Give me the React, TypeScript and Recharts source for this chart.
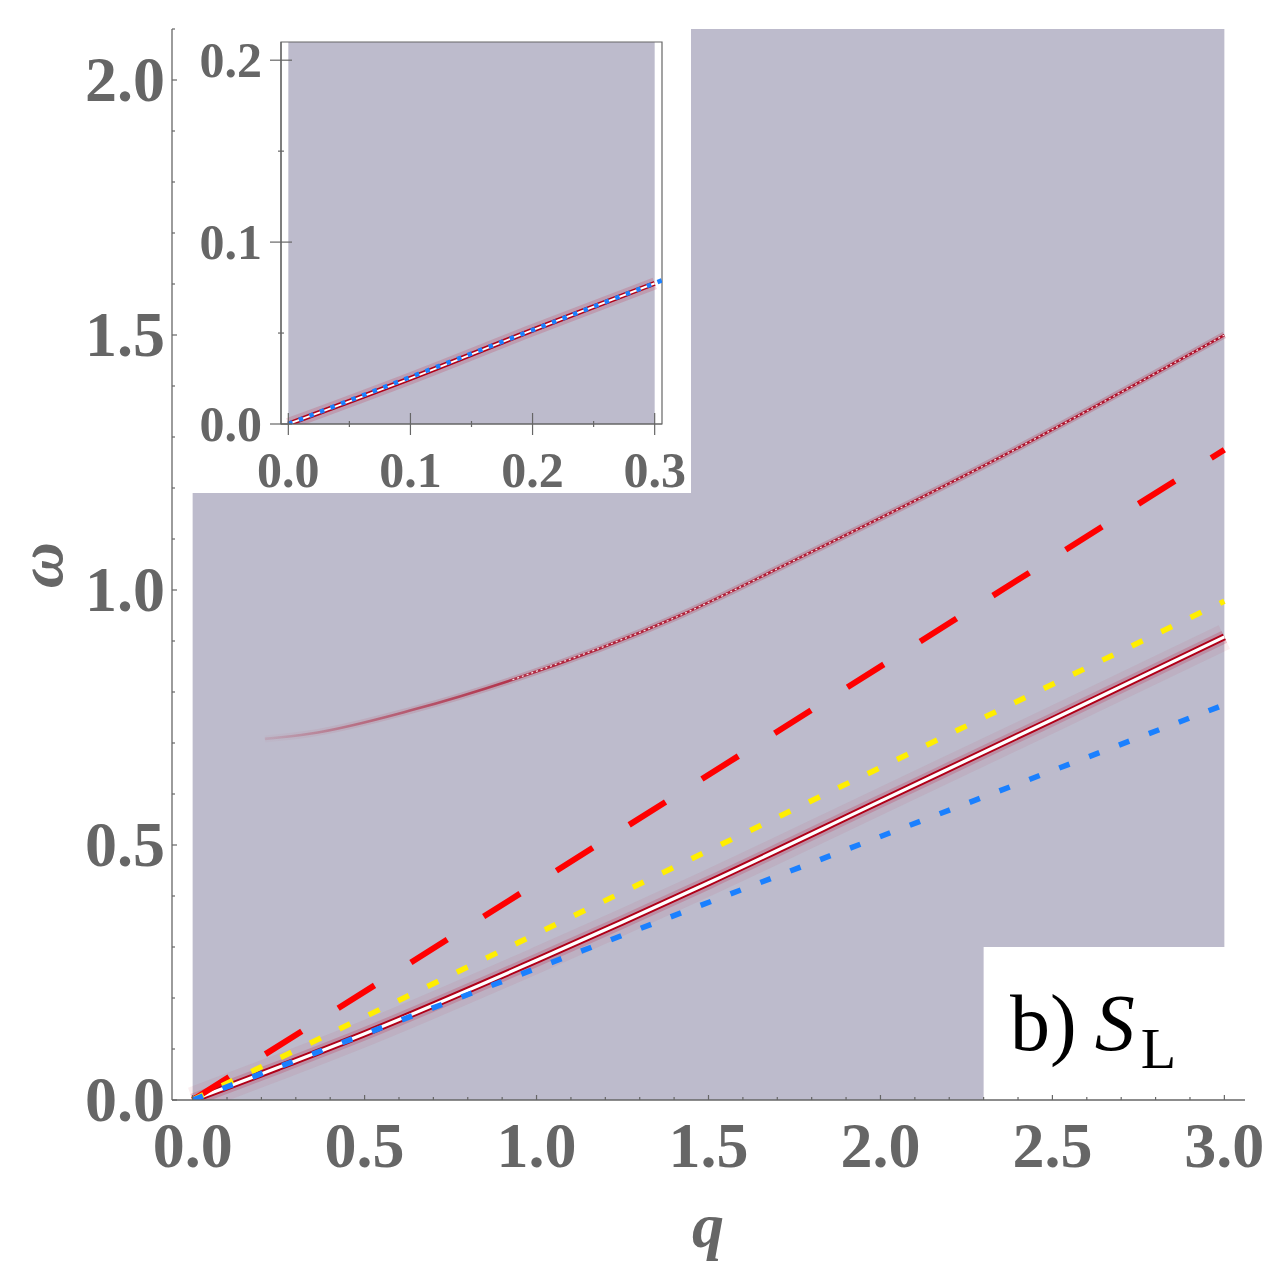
import { ComposedChart, Line, XAxis, YAxis, ReferenceArea } from "recharts"

// ---- data ----
const qMain = [0, 0.25, 0.5, 1.0, 1.5, 2.0, 2.5, 3.0]
const peakMain = [0, 0.064, 0.13, 0.274, 0.426, 0.586, 0.746, 0.908]

const qUpper = [0.21, 0.34, 0.64, 0.93, 1.42, 1.77, 2.35, 3.0]
const peakUpper = [0.708, 0.718, 0.765, 0.824, 0.951, 1.065, 1.261, 1.5]

const qLines = [0, 3.0]
const redDashed = [0, 1.275]
const yellowDotted = [0, 0.978]
const blueDotted = [0, 0.775]

const qInset = [0, 0.1, 0.2, 0.3]
const peakInset = [0, 0.0251, 0.0516, 0.0773]
const qInsetBlue = [0, 0.306]
const blueInset = [0, 0.079]

const xTicks = [0, 0.1, 0.2, 0.3, 0.4, 0.5, 0.6, 0.7, 0.8, 0.9, 1.0, 1.1, 1.2, 1.3, 1.4, 1.5, 1.6, 1.7, 1.8, 1.9, 2.0, 2.1, 2.2, 2.3, 2.4, 2.5, 2.6, 2.7, 2.8, 2.9, 3.0]
const xMajors = [0, 0.5, 1.0, 1.5, 2.0, 2.5, 3.0]
const yTicks = [0, 0.1, 0.2, 0.3, 0.4, 0.5, 0.6, 0.7, 0.8, 0.9, 1.0, 1.1, 1.2, 1.3, 1.4, 1.5, 1.6, 1.7, 1.8, 1.9, 2.0, 2.1]
const yMajors = [0, 0.5, 1.0, 1.5, 2.0]
const insetXTicks = [0, 0.05, 0.1, 0.15, 0.2, 0.25, 0.3]
const insetXMajors = [0, 0.1, 0.2, 0.3]
const insetYTicks = [0, 0.05, 0.1, 0.15, 0.2]
const insetYMajors = [0, 0.1, 0.2]

const GRAY = "#666666"
const BG = "#bdbbcc"
const FONT = "Liberation Serif, DejaVu Serif, serif"

const pts = (qs: number[], ws: number[]) => qs.map((q, i) => ({ q, w: ws[i] }))
const isMajor = (v: number, majors: number[]) => majors.some((m) => Math.abs(m - v) < 1e-6)

function TickX(props: any) {
  const { x, y, payload, cfg } = props
  const v = payload.value
  const major = isMajor(v, cfg.majors)
  return (
    <g>
      <line
        x1={x} x2={x}
        y1={y + (major ? cfg.majorOut : cfg.minorOut)}
        y2={y - (major ? cfg.majorIn : cfg.minorIn)}
        stroke={GRAY} strokeWidth={1.2}
      />
      {major && (
        <text x={x} y={y + cfg.labelDy} textAnchor="middle" fill={GRAY}
          style={{ fontFamily: FONT, fontSize: cfg.fontSize, fontWeight: 700 }}>
          {v.toFixed(1)}
        </text>
      )}
    </g>
  )
}

function TickY(props: any) {
  const { x, y, payload, cfg } = props
  const v = payload.value
  const major = isMajor(v, cfg.majors)
  return (
    <g>
      <line
        y1={y} y2={y}
        x1={x - (major ? cfg.majorOut : cfg.minorOut)}
        x2={x + (major ? cfg.majorIn : cfg.minorIn)}
        stroke={GRAY} strokeWidth={1.2}
      />
      {major && (
        <text x={x - cfg.labelDx} y={y + cfg.labelDy} textAnchor="end" fill={GRAY}
          style={{ fontFamily: FONT, fontSize: cfg.fontSize, fontWeight: 700 }}>
          {v.toFixed(1)}
        </text>
      )}
    </g>
  )
}

const mainX = { majors: xMajors, majorIn: 5, minorIn: 3, majorOut: 0, minorOut: 0, labelDy: 67, fontSize: 64 }
const mainY = { majors: yMajors, majorIn: 5, minorIn: 3, majorOut: 0, minorOut: 0, labelDx: 7, labelDy: 21, fontSize: 64 }
const insX = { majors: insetXMajors, majorIn: 11, minorIn: 3, majorOut: 11, minorOut: 3, labelDy: 63, fontSize: 50 }
const insY = { majors: insetYMajors, majorIn: 11, minorIn: 3, majorOut: 11, minorOut: 3, labelDx: 19, labelDy: 17, fontSize: 50 }

function Inset() {
  const peak = pts(qInset, peakInset)
  const blue = pts(qInsetBlue, blueInset)
  return (
    <div style={{ position: "absolute", left: 192, top: 28, width: 499, height: 465, background: "#ffffff" }}>
      <ComposedChart width={499} height={485} margin={{ top: 14, right: 29, bottom: 20, left: 0 }}>
        <XAxis type="number" dataKey="q" domain={[-0.006, 0.306]} ticks={insetXTicks} interval={0}
          tickSize={0} tickMargin={0} height={69} allowDataOverflow
          axisLine={{ stroke: GRAY, strokeWidth: 1.2 }} tick={<TickX cfg={insX} />} />
        <YAxis type="number" dataKey="w" domain={[0, 0.21]} ticks={insetYTicks} interval={0}
          tickSize={0} tickMargin={0} width={89} allowDataOverflow
          axisLine={{ stroke: GRAY, strokeWidth: 1.2 }} tick={<TickY cfg={insY} />} />
        <ReferenceArea x1={0} x2={0.3} y1={0} y2={0.21} fill={BG} fillOpacity={1} stroke="none" />
        <Line data={peak} dataKey="w" type="monotone" stroke="#c01030" strokeOpacity={0.18} strokeWidth={12} dot={false} activeDot={false} isAnimationActive={false} />
        <Line data={peak} dataKey="w" type="monotone" stroke="#b00018" strokeWidth={5} dot={false} activeDot={false} isAnimationActive={false} />
        <Line data={peak} dataKey="w" type="monotone" stroke="#ffffff" strokeWidth={2} dot={false} activeDot={false} isAnimationActive={false} />
        <Line data={blue} dataKey="w" type="linear" stroke="#1a80ff" strokeWidth={4.5} strokeDasharray="4.5 6.8" dot={false} activeDot={false} isAnimationActive={false} />
        <ReferenceArea x1={-0.006} x2={0.306} y1={0} y2={0.21} fill="none" stroke={GRAY} strokeWidth={1.2} />
      </ComposedChart>
    </div>
  )
}

export default function App() {
  const peak = pts(qMain, peakMain)
  const upper = pts(qUpper, peakUpper)
  const red = pts(qLines, redDashed)
  const yellow = pts(qLines, yellowDotted)
  const blue = pts(qLines, blueDotted)

  return (
    <div style={{ position: "absolute", left: 0, top: 0, width: 1267, height: 1266, background: "#ffffff" }}>
      <ComposedChart width={1267} height={1266} margin={{ top: 29, right: 22, bottom: 0, left: 0 }}>
        <defs>
          <linearGradient id="upperFade" x1="0" y1="0" x2="1" y2="0">
            <stop offset="0" stopColor="#b0102a" stopOpacity={0.1} />
            <stop offset="0.1" stopColor="#b0102a" stopOpacity={0.4} />
            <stop offset="0.3" stopColor="#b0102a" stopOpacity={0.85} />
            <stop offset="1" stopColor="#b0102a" stopOpacity={1} />
          </linearGradient>
          <clipPath id="heatClip">
            <rect x={192} y={29} width={1031} height={1071} />
          </clipPath>
        </defs>
        <XAxis type="number" dataKey="q" domain={[-0.06, 3.06]} ticks={xTicks} interval={0}
          tickSize={0} tickMargin={0} height={166} allowDataOverflow
          axisLine={{ stroke: GRAY, strokeWidth: 1.3 }} tick={<TickX cfg={mainX} />} />
        <YAxis type="number" dataKey="w" domain={[0, 2.1]} ticks={yTicks} interval={0}
          tickSize={0} tickMargin={0} width={172} allowDataOverflow
          axisLine={{ stroke: GRAY, strokeWidth: 1.3 }} tick={<TickY cfg={mainY} />} />

        <ReferenceArea x1={0} x2={3} y1={0} y2={2.1} fill={BG} fillOpacity={1} stroke="none" />

        {/* main peak with red halo */}
        <Line data={peak} dataKey="w" type="monotone" stroke="#c03050" strokeOpacity={0.08} strokeWidth={26} dot={false} activeDot={false} isAnimationActive={false} />
        <Line data={peak} dataKey="w" type="monotone" stroke="#c01030" strokeOpacity={0.2} strokeWidth={13} dot={false} activeDot={false} isAnimationActive={false} />
        <Line data={peak} dataKey="w" type="monotone" stroke="#b00018" strokeWidth={7} dot={false} activeDot={false} isAnimationActive={false} />
        <Line data={peak} dataKey="w" type="monotone" stroke="#ffffff" strokeWidth={3.2} dot={false} activeDot={false} isAnimationActive={false} />

        {/* upper branch */}
        <Line data={upper} dataKey="w" type="monotone" stroke="url(#upperFade)" strokeOpacity={0.22} strokeWidth={7} dot={false} activeDot={false} isAnimationActive={false} />
        <Line data={upper} dataKey="w" type="monotone" stroke="url(#upperFade)" strokeWidth={2.6} dot={false} activeDot={false} isAnimationActive={false} />
        <Line data={upper.slice(3)} dataKey="w" type="monotone" stroke="#ffffff" strokeOpacity={0.85} strokeWidth={1.3} strokeDasharray="2 3" dot={false} activeDot={false} isAnimationActive={false} />

        <Line data={red} dataKey="w" type="linear" stroke="#ff0000" strokeWidth={6} strokeDasharray="43 43" dot={false} activeDot={false} isAnimationActive={false} />
        <Line data={yellow} dataKey="w" type="linear" stroke="#ffee00" strokeWidth={5.5} strokeDasharray="12 20.6" dot={false} activeDot={false} isAnimationActive={false} />
        <Line data={blue} dataKey="w" type="linear" stroke="#1a80ff" strokeWidth={5.5} strokeDasharray="11 21" dot={false} activeDot={false} isAnimationActive={false} />

        <ReferenceArea x1={2.3} x2={3.06} y1={0} y2={0.3} fill="#ffffff" fillOpacity={1} stroke="none" ifOverflow="visible" />
      </ComposedChart>

      <Inset />

      {/* axis titles and panel label */}
      <svg style={{ position: "absolute", left: 0, top: 0, pointerEvents: "none" }} width={1267} height={1266}>
        <text x={62} y={565} transform="rotate(-90 62 565)" textAnchor="middle" fill={GRAY}
          style={{ fontFamily: FONT, fontSize: 64, fontWeight: 700, fontStyle: "italic" }}>ω</text>
        <text x={708} y={1247} textAnchor="middle" fill={GRAY}
          style={{ fontFamily: FONT, fontSize: 64, fontWeight: 700, fontStyle: "italic" }}>q</text>
        <text x={1010} y={1050} fill="#000000" style={{ fontFamily: FONT, fontSize: 80 }}>
          b)
          <tspan dx={18} style={{ fontStyle: "italic" }}>S</tspan>
          <tspan dx={6} dy={18} style={{ fontSize: 58 }}>L</tspan>
        </text>
      </svg>
    </div>
  )
}
